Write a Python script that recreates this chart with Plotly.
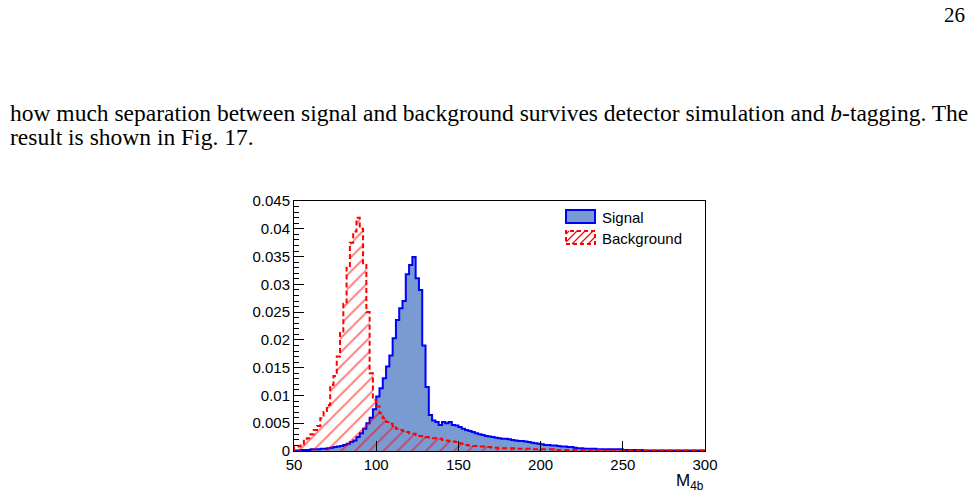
import numpy as np
import plotly.graph_objects as go

# ---------------- data ----------------
bin_edges = np.arange(50, 302, 2)  # 125 bins of width 2, 50..300

signal = [
    .0001, .0001, .0002, .0002, .0002, .0003, .0003, .0003, .0004, .0004,
    .0005, .0006, .0007, .0008, .0009, .0011, .0013, .0016, .0019, .0025,
    .0032, .0040, .0050, .0060, .0075, .0098, .0113, .0131, .0152, .0172,
    .0203, .0236, .0257, .0270, .0318, .0335, .0349, .0311, .0290, .0190,
    .0115, .0065, .0055, .0052, .0047, .0052, .0050, .0052, .0047, .0046,
    .0043, .0040, .0038, .0036, .0034, .0032, .0030, .0029, .0027, .0026,
    .0025, .0024, .0023, .0022, .0022, .0021, .0020, .0019, .0018, .0018,
    .0017, .0016, .0015, .0014, .0013, .0012, .0011, .0011, .0010, .0010,
    .0009, .0008, .0008, .0007, .0007, .0006, .0005, .0005, .0004, .0004,
    .0004, .0004, .0003, .0003, .0003, .0003, .0003, .0003, .0003, .0003,
    .0002, .0002, .0002, .0002, .0002, .0002, .0001, .0001, .0001, .0001,
    .0001, .0001, .0001, .0001, .0001, .0001, .0001, .0001, .0001, .0001,
    .0001, .0001, .0001, .0001, .0001,
]

background = [
    .0008, .0008, .0012, .0022, .0023, .0030, .0038, .0045, .0059, .0070,
    .0083, .0119, .0135, .0170, .0215, .0265, .0330, .0375, .0395, .0420,
    .0400, .0335, .0250, .0140, .0092, .0080, .0068, .0059, .0052, .0049,
    .0045, .0040, .0038, .0036, .0034, .0032, .0031, .0029, .0027, .0026,
    .0025, .0024, .0023, .0023, .0022, .0020, .0019, .0018, .0017, .0016,
    .0014, .0013, .0011, .0010, .0009, .0009, .0008, .0008, .0007, .0007,
    .0006, .0006, .0005, .0005, .0005, .0005, .0005, .0004, .0004, .0004,
    .0004, .0004, .0003, .0003, .0003, .0003, .0003, .0003, .0003, .0002,
    .0002, .0002, .0002, .0002, .0002, .0002, .0002, .0002, .0002, .0002,
    .0002, .0002, .0002, .0001, .0001, .0001, .0001, .0001, .0001, .0001,
    .0001, .0001, .0001, .0001, .0001, .0001, .0001, .0001, .0001, .0001,
    .0001, .0001, .0001, .0001, .0001, .0001, .0001, .0001, .0001, .0001,
    .0001, .0001, .0001, .0001, .0001,
]

x_ticks = [50, 100, 150, 200, 250, 300]
series_names = ["Signal", "Background"]
x_title = "M<sub>4b</sub>"

page_number = "26"
text_line1 = ("how much separation between signal and background survives detector "
              "simulation and <i>b</i>-tagging. The")
text_line2 = "result is shown in Fig. 17."


def step_xy(edges, vals):
    xs = np.concatenate([[edges[0]], edges[:-1], [edges[-1]], [edges[-1]]])
    ys = np.concatenate([[0.0], vals, [vals[-1]], [0.0]])
    return xs, ys


# ---------------- figure geometry ----------------
W, H = 975, 499
L, R, T, B = 294, 705, 201, 451
pw, ph = R - L, B - T


def px2x(px):
    return (px - L) / pw


def px2y(py):
    return (B - py) / ph


SIG_FILL = "#7a9bd2"
SIG_LINE = "#0000ff"
BKG_LINE = "#ff0000"
font_sans = "Liberation Sans, Arial, Helvetica, sans-serif"
font_serif = "Liberation Serif, Times New Roman, serif"
BODY_SIZE = 23.5

fig = go.Figure()

sx, sy = step_xy(bin_edges, np.array(signal))
fig.add_trace(go.Scatter(
    x=sx, y=sy, mode="lines", line_shape="hv",
    line=dict(color=SIG_LINE, width=2),
    fill="tozeroy", fillcolor=SIG_FILL,
    name=series_names[0], showlegend=False,
))

bx, by = step_xy(bin_edges, np.array(background))
fig.add_trace(go.Scatter(
    x=bx, y=by, mode="lines", line_shape="hv",
    line=dict(color=BKG_LINE, width=2, dash="5px,3px"),
    fill="tozeroy", fillcolor="rgba(0,0,0,0)",
    fillpattern=dict(shape="/", fgcolor=BKG_LINE, bgcolor="rgba(0,0,0,0)",
                     size=10, solidity=0.2),
    name=series_names[1], showlegend=False,
))

fig.update_layout(
    width=W, height=H,
    margin=dict(l=L, r=W - R, t=T, b=H - B, pad=0),
    paper_bgcolor="white", plot_bgcolor="white",
    showlegend=False,
    font=dict(family=font_sans, size=15, color="black"),
)

fig.update_xaxes(
    range=[50, 300], tickvals=x_ticks, ticktext=[str(v) for v in x_ticks],
    ticks="inside", ticklen=10, tickwidth=1, tickcolor="black",
    showline=True, linecolor="black", linewidth=1, mirror=True,
    showgrid=False, zeroline=False,
    tickfont=dict(family=font_sans, size=15, color="black"),
)
fig.update_yaxes(
    range=[0, 0.045], dtick=0.005, tick0=0,
    ticks="inside", ticklen=10, tickwidth=1, tickcolor="black",
    minor=dict(dtick=0.001, ticks="inside", ticklen=5, tickcolor="black", showgrid=False),
    showline=True, linecolor="black", linewidth=1, mirror=True,
    showgrid=False, zeroline=False,
    tickfont=dict(family=font_sans, size=15, color="black"),
)

# ---------------- legend (ROOT style boxes) ----------------
shapes = []
box_x0, box_x1 = 566, 595
sig_y0, sig_y1 = 210, 223
bkg_y0, bkg_y1 = 231, 244

shapes.append(dict(type="rect", xref="paper", yref="paper",
                   x0=px2x(box_x0), x1=px2x(box_x1), y0=px2y(sig_y1), y1=px2y(sig_y0),
                   fillcolor=SIG_FILL, line=dict(color=SIG_LINE, width=2)))

bw, bh = box_x1 - box_x0, bkg_y1 - bkg_y0
path = ""
for c in range(-bh + 3, bw, 8):
    u0, u1 = max(0, c), min(bw, c + bh)
    if u1 - u0 < 1:
        continue
    xa, ya = box_x0 + u0, bkg_y1 - (u0 - c)
    xb, yb = box_x0 + u1, bkg_y1 - (u1 - c)
    path += f"M{px2x(xa)},{px2y(ya)} L{px2x(xb)},{px2y(yb)} "
shapes.append(dict(type="path", xref="paper", yref="paper", path=path.strip(),
                   line=dict(color=BKG_LINE, width=1.2)))
shapes.append(dict(type="rect", xref="paper", yref="paper",
                   x0=px2x(box_x0), x1=px2x(box_x1), y0=px2y(bkg_y1), y1=px2y(bkg_y0),
                   fillcolor="rgba(0,0,0,0)", line=dict(color=BKG_LINE, width=2, dash="4px,3px")))
fig.update_layout(shapes=shapes)

ann = []
ann.append(dict(text=series_names[0], xref="paper", yref="paper",
                x=px2x(600), y=px2y(217), xanchor="left", yanchor="middle",
                showarrow=False, font=dict(family=font_sans, size=15, color="black")))
ann.append(dict(text=series_names[1], xref="paper", yref="paper",
                x=px2x(600), y=px2y(238), xanchor="left", yanchor="middle",
                showarrow=False, font=dict(family=font_sans, size=15, color="black")))
ann.append(dict(text=x_title, xref="paper", yref="paper",
                x=px2x(706), y=px2y(482), xanchor="right", yanchor="middle",
                showarrow=False, font=dict(family=font_sans, size=17, color="black")))
ann.append(dict(text=page_number, xref="paper", yref="paper",
                x=px2x(967), y=px2y(15), xanchor="right", yanchor="middle",
                showarrow=False, font=dict(family=font_serif, size=21, color="black")))
ann.append(dict(text=text_line1, xref="paper", yref="paper",
                x=px2x(8), y=px2y(113), xanchor="left", yanchor="middle",
                showarrow=False, font=dict(family=font_serif, size=BODY_SIZE, color="black")))
ann.append(dict(text=text_line2, xref="paper", yref="paper",
                x=px2x(8), y=px2y(137), xanchor="left", yanchor="middle",
                showarrow=False, font=dict(family=font_serif, size=BODY_SIZE, color="black")))
fig.update_layout(annotations=ann)

fig.write_html("out.html")
